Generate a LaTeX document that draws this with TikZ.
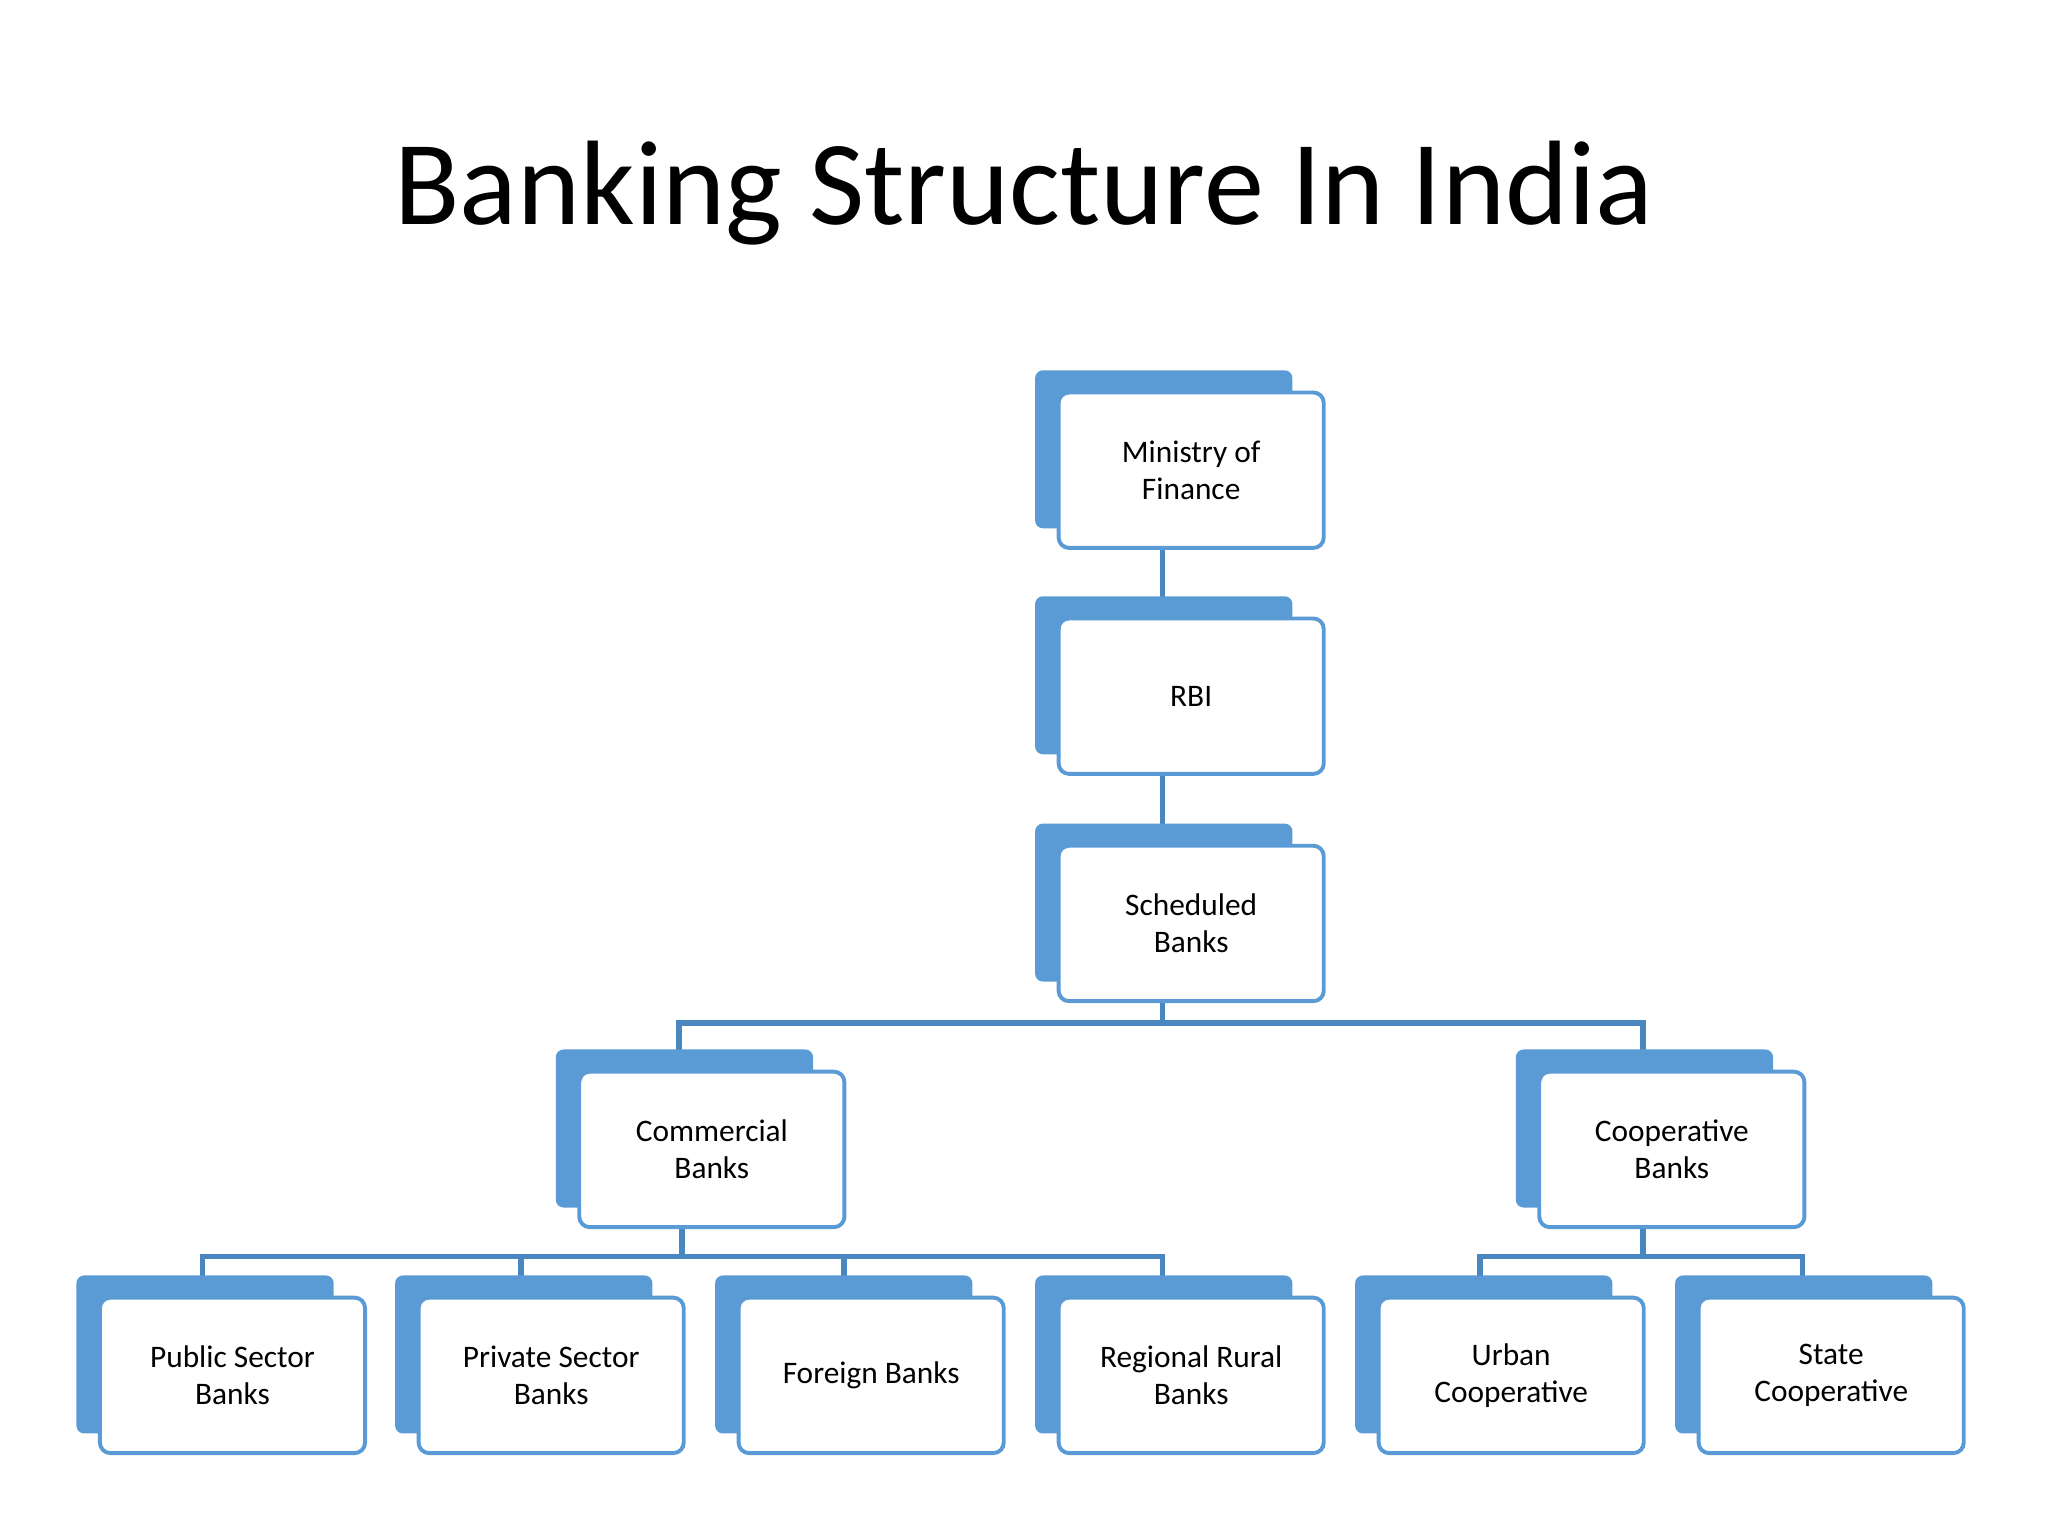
\documentclass[tikz,border=0pt]{standalone}
\usepackage{fontspec}
\setmainfont{Carlito}
\definecolor{bb}{HTML}{5B9BD5}
\definecolor{bl}{HTML}{4A86C0}
\begin{document}
\begin{tikzpicture}[x=1pt,y=-1pt,
 back/.style={fill=bb,rounded corners=6pt,minimum width=197pt,minimum height=121pt,inner sep=0pt},
 front/.style={fill=white,draw=bb,line width=3pt,rounded corners=8pt,minimum width=203pt,minimum height=119pt,align=center,font=\fontsize{24}{28}\selectfont,inner sep=0pt},
 conn/.style={draw=bl,line width=4.5pt}]
\useasboundingbox (0,0) rectangle (1568,1176);
\node[font=\fontsize{92}{100}\selectfont] (title) at (784,148) {Banking Structure In India};
\newcommand\bx[4]{\node[back] at (#2-21,#3-16) {};\node[front] (#1) at (#2,#3) {#4};}
% connectors first
\coordinate (b1) at (520,783); \coordinate (b2) at (1258,783);
\coordinate (c1) at (155,962); \coordinate (c2) at (890,962);
\coordinate (d1) at (1133,962); \coordinate (d2) at (1380,962);
\draw[conn] (890,420) -- (890,473);
\draw[conn] (890,593) -- (890,647);
\draw[conn] (890,767) -- (890,783);
\draw[conn] (520,820) |- (b1) -- (b2) -- (1258,820);
\draw[conn] (522,940) -- (522,962);
\draw[conn] (155,993) -- (c1) -- (c2) -- (890,993);
\draw[conn] (399,962) -- (399,993);
\draw[conn] (646,962) -- (646,993);
\draw[conn] (1258,940) -- (1258,962);
\draw[conn] (1133,993) -- (d1) -- (d2) -- (1380,993);
\bx{mof}{912}{360}{Ministry of\\Finance}
\bx{rbi}{912}{533}{RBI}
\bx{sch}{912}{707}{Scheduled\\Banks}
\bx{com}{545}{880}{Commercial\\Banks}
\bx{coo}{1280}{880}{Cooperative\\Banks}
\bx{pub}{178}{1053}{Public Sector\\Banks}
\bx{pri}{422}{1053}{Private Sector\\Banks}
\bx{for}{667}{1053}{Foreign Banks}
\bx{reg}{912}{1053}{Regional Rural\\Banks}
\bx{urb}{1157}{1053}{Urban\\Cooperative}
\bx{sta}{1402}{1053}{State\\Cooperative}
\end{tikzpicture}
\end{document}
